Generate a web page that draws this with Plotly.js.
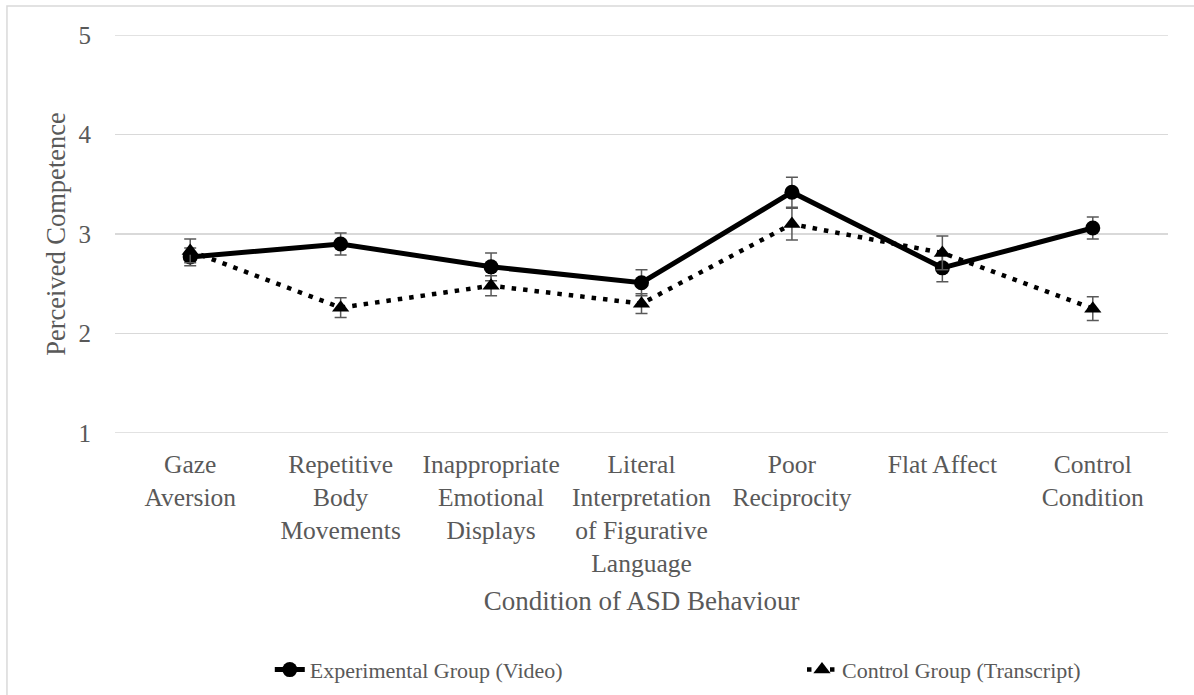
<!DOCTYPE html>
<html>
<head>
<meta charset="utf-8">
<script src="https://cdn.plot.ly/plotly-3.0.1.min.js"></script>
<style>html,body{margin:0;padding:0;background:#fff;}#chart{width:1194px;height:695px;}</style>
</head>
<body>
<div id="chart"></div>
<script>
const categories = ["Gaze<br>Aversion", "Repetitive<br>Body<br>Movements", "Inappropriate<br>Emotional<br>Displays", "Literal<br>Interpretation<br>of Figurative<br>Language", "Poor<br>Reciprocity", "Flat Affect", "Control<br>Condition"];
const experimentalValues = [2.77, 2.90, 2.67, 2.51, 3.42, 2.66, 3.06];
const experimentalErrors = [0.09, 0.11, 0.14, 0.13, 0.15, 0.14, 0.11];
const controlValues = [2.83, 2.26, 2.48, 2.30, 3.10, 2.81, 2.25];
const controlErrors = [0.12, 0.10, 0.10, 0.10, 0.16, 0.17, 0.12];
const yTicks = [1, 2, 3, 4, 5];

const idx = categories.map((_, i) => i);
const font = "'Liberation Serif', 'Times New Roman', serif";
const gray = "#595959";

const traces = [
  {
    x: idx, y: experimentalValues, type: "scatter", mode: "lines+markers",
    name: "Experimental Group (Video)", legend: "legend",
    line: {color: "#000", width: 5},
    marker: {symbol: "circle", size: 15, color: "#000"},
    error_y: {type: "data", array: experimentalErrors, visible: true, color: gray, thickness: 1.5, width: 6}
  },
  {
    x: idx, y: controlValues, type: "scatter", mode: "lines+markers",
    name: "Control Group (Transcript)", legend: "legend2",
    line: {color: "#000", width: 4.5, dash: "4.5px,7px"},
    marker: {symbol: "triangle-up", size: 15, color: "#000"},
    error_y: {type: "data", array: controlErrors, visible: true, color: gray, thickness: 1.5, width: 6}
  }
];

const gridShapes = [1, 5].map(v => ({
  type: "line", xref: "paper", yref: "y", x0: 0, x1: 1, y0: v, y1: v,
  line: {color: "#d9d9d9", width: 1.5}, layer: "below"
}));

const legendFont = {family: font, size: 22, color: gray};

const layout = {
  width: 1194, height: 695,
  margin: {l: 115, r: 26, t: 35, b: 262, autoexpand: false},
  paper_bgcolor: "#fff", plot_bgcolor: "#fff",
  font: {family: font, color: gray, size: 25},
  showlegend: true,
  legend: {orientation: "h", x: 0.147, xanchor: "left", y: -0.595, yanchor: "middle",
           font: legendFont, bgcolor: "rgba(0,0,0,0)"},
  legend2: {orientation: "h", x: 0.6524, xanchor: "left", y: -0.595, yanchor: "middle",
           font: legendFont, bgcolor: "rgba(0,0,0,0)"},
  xaxis: {
    range: [-0.5, 6.5], tickvals: idx, ticktext: categories, automargin: false,
    showgrid: false, zeroline: false, showline: false, ticks: "",
    tickfont: {family: font, size: 25.5, color: gray},
    ticklabelstandoff: 13,
    title: {text: "Condition of ASD Behaviour", font: {family: font, size: 27, color: gray}, standoff: 14}
  },
  yaxis: {
    range: [1, 5], tickvals: yTicks, showgrid: true, gridcolor: "#d9d9d9", gridwidth: 1.5,
    zeroline: false, showline: false, ticks: "", automargin: false,
    tickfont: {family: font, size: 25, color: gray},
    ticklabelstandoff: 23,
    title: {text: "Perceived Competence", font: {family: font, size: 26.5, color: gray}, standoff: 5}
  },
  shapes: [
    {type: "rect", xref: "paper", yref: "paper", x0: -0.1026, x1: 1.03, y0: -0.671, y1: 1.0729,
     line: {color: "#d9d9d9", width: 1.5}, fillcolor: "rgba(0,0,0,0)", layer: "below"}
  ].concat(gridShapes)
};

Plotly.newPlot("chart", traces, layout, {displayModeBar: false, staticPlot: true});
</script>
</body>
</html>
